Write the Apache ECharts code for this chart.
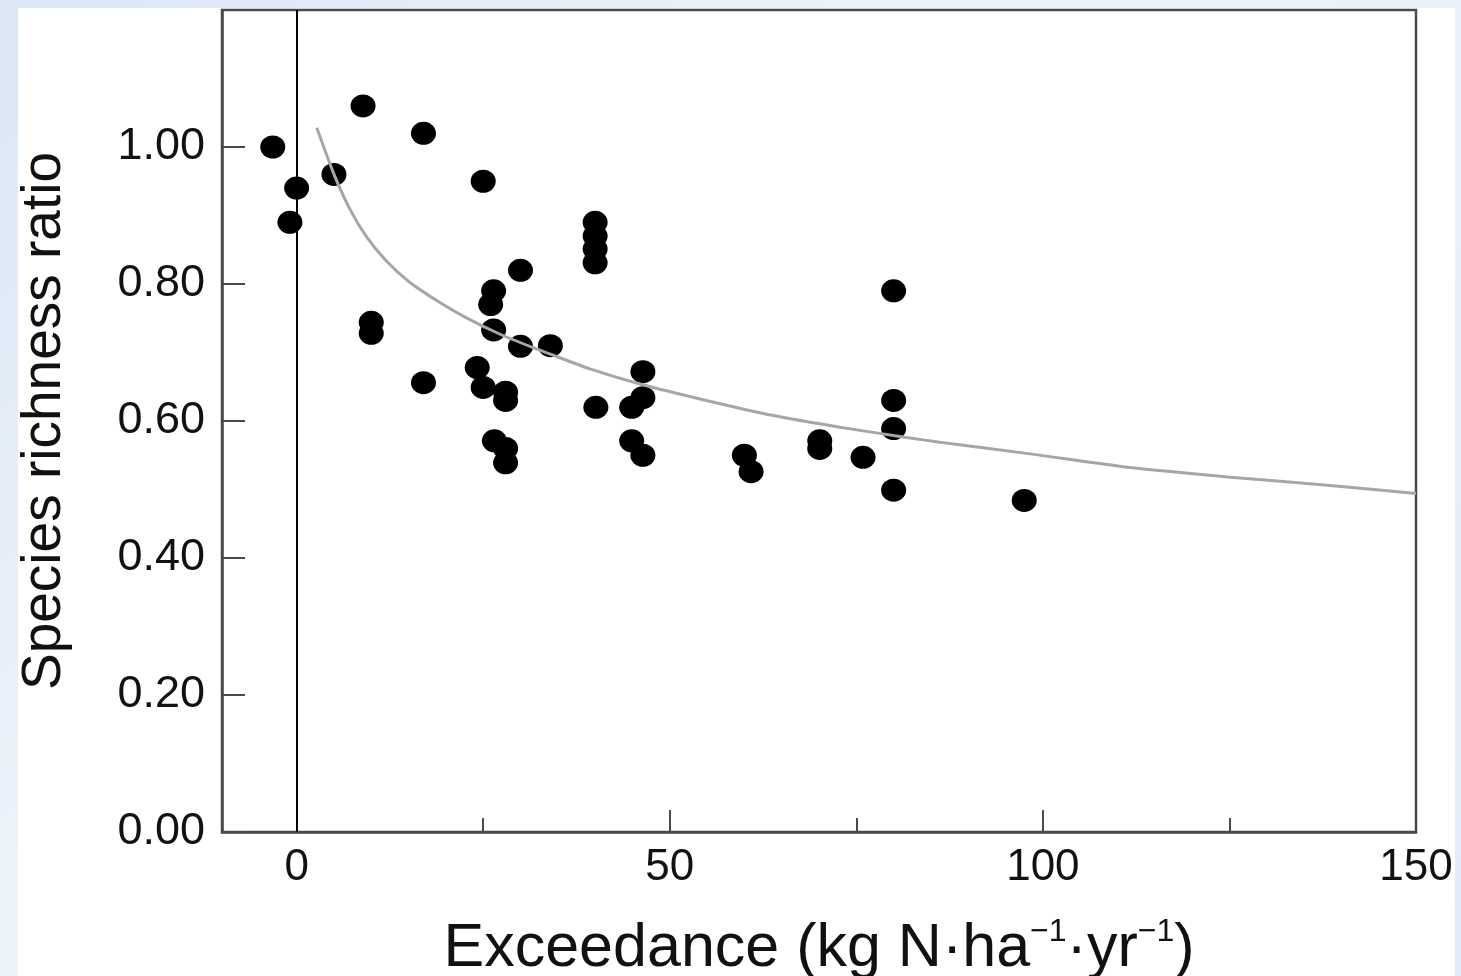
<!DOCTYPE html>
<html>
<head>
<meta charset="utf-8">
<script src="https://cdn.jsdelivr.net/npm/echarts@6/dist/echarts.min.js"></script>
<style>
  html, body { margin: 0; padding: 0; width: 1461px; height: 976px; overflow: hidden;
    background: linear-gradient(135deg, #dbe7f5 0%, #eef4fb 40%, #e2ecf8 100%); }
  #panel { position: absolute; left: 18px; top: 8px; width: 1437px; height: 968px; background: #ffffff; }
  #chart { position: absolute; left: 0; top: 0; width: 1461px; height: 976px; }
</style>
</head>
<body>
<div id="panel"></div>
<div id="chart"></div>
<script>
// Observed sites: N exceedance (kg N/ha/yr) and species richness ratio
const exceedance = [-3.2, 0, -0.9, 5, 8.9, 17, 25, 10, 10, 17,
  40, 40, 40, 40, 30, 26.4, 26, 26.4, 30, 34,
  24.2, 25, 28, 28, 26.5, 28, 28, 40.1, 46.4, 46.4,
  44.9, 44.9, 46.4, 60, 60.9, 70.1, 70.1, 75.9, 80, 80,
  80, 80, 97.5];
const richness = [1.00, 0.94, 0.89, 0.96, 1.06, 1.02, 0.95, 0.744, 0.728, 0.656,
  0.89, 0.87, 0.851, 0.831, 0.82, 0.79, 0.77, 0.733, 0.709, 0.71,
  0.678, 0.649, 0.642, 0.630, 0.571, 0.56, 0.539, 0.62, 0.672, 0.634,
  0.62, 0.571, 0.55, 0.55, 0.526, 0.571, 0.56, 0.547, 0.79, 0.63,
  0.589, 0.499, 0.484];

// Fitted curve
const fitX = [2.7, 4.9, 7.1, 9.3, 12.0, 15.1, 19.2, 22.7, 27.2, 31.7, 33.9,
  39.3, 46.0, 54.9, 63.9, 72.8, 81.7, 86.2, 98.3, 111.7, 125.1, 138.5, 150];
const fitY = [1.028, 0.963, 0.910, 0.870, 0.834, 0.803, 0.773, 0.751, 0.727, 0.707, 0.698,
  0.676, 0.654, 0.630, 0.608, 0.591, 0.576, 0.569, 0.552, 0.532, 0.518, 0.506, 0.494];

// Axis ticks
const xMajorTicks = [0, 50, 100, 150];
const xMinorTicks = [25, 75, 125];
const yTickLabels = ['0.00', '0.20', '0.40', '0.60', '0.80', '1.00'];

const FONT = '"Liberation Sans", Arial, Helvetica, sans-serif';
const AXIS_COLOR = '#4a4a4a';

const points = exceedance.map((x, i) => [x, richness[i]]);
const fit = fitX.map((x, i) => [x, fitY[i]]);

const chart = echarts.init(document.getElementById('chart'), null, { renderer: 'canvas' });
chart.setOption({
  backgroundColor: 'transparent',
  animation: false,
  grid: {
    left: 222, right: 45, top: 10, bottom: 144,
    show: true, borderColor: AXIS_COLOR, borderWidth: 2.5, backgroundColor: 'transparent',
    outerBoundsMode: 'none'
  },
  xAxis: [{
    type: 'value', min: -10, max: 150,
    position: 'bottom',
    splitLine: { show: false },
    axisLine: { show: true, onZero: false, lineStyle: { color: AXIS_COLOR, width: 2.5 } },
    axisTick: { show: true, inside: true, length: 22, customValues: xMajorTicks,
      lineStyle: { color: AXIS_COLOR, width: 2 } },
    axisLabel: { show: true, customValues: xMajorTicks, margin: 14,
      fontFamily: FONT, fontSize: 44, color: '#111' },
    name: 'Exceedance (kg N·ha{sup|−1}·yr{sup|−1})',
    nameLocation: 'middle', nameGap: 84,
    nameTextStyle: { fontFamily: FONT, fontSize: 61, color: '#111', lineHeight: 66,
      rich: { sup: { fontFamily: FONT, fontSize: 32, color: '#111', verticalAlign: 'top', lineHeight: 34 } } }
  }, {
    type: 'value', min: -10, max: 150,
    position: 'bottom',
    splitLine: { show: false },
    axisLine: { show: false },
    axisTick: { show: true, inside: true, length: 14, customValues: xMinorTicks,
      lineStyle: { color: AXIS_COLOR, width: 2 } },
    axisLabel: { show: false }
  }],
  yAxis: {
    type: 'value', min: 0, max: 1.2, interval: 0.2,
    splitLine: { show: false },
    axisLine: { show: true, onZero: false, lineStyle: { color: AXIS_COLOR, width: 2.5 } },
    axisTick: { show: true, inside: true, length: 23, lineStyle: { color: AXIS_COLOR, width: 2 } },
    axisLabel: {
      margin: 17, fontFamily: FONT, fontSize: 45, color: '#111',
      formatter: function (v) {
        const idx = Math.round(v / 0.2);
        return idx < yTickLabels.length ? yTickLabels[idx] : '';
      }
    },
    name: 'Species richness ratio',
    nameLocation: 'middle', nameRotate: 90, nameGap: 150,
    nameTextStyle: { fontFamily: FONT, fontSize: 55, color: '#111' }
  },
  series: [{
    type: 'scatter',
    xAxisIndex: 0,
    data: points,
    symbol: 'circle',
    symbolSize: [25, 23],
    itemStyle: { color: '#000', opacity: 1 },
    z: 3,
    markLine: {
      silent: true,
      symbol: ['none', 'none'],
      label: { show: false },
      lineStyle: { color: '#000', width: 2, type: 'solid' },
      data: [{ xAxis: 0 }]
    }
  }, {
    type: 'line',
    xAxisIndex: 0,
    data: fit,
    showSymbol: false,
    symbol: 'none',
    smooth: 0.2,
    lineStyle: { color: '#a6a6a6', width: 3 },
    z: 4
  }]
});
</script>
</body>
</html>
